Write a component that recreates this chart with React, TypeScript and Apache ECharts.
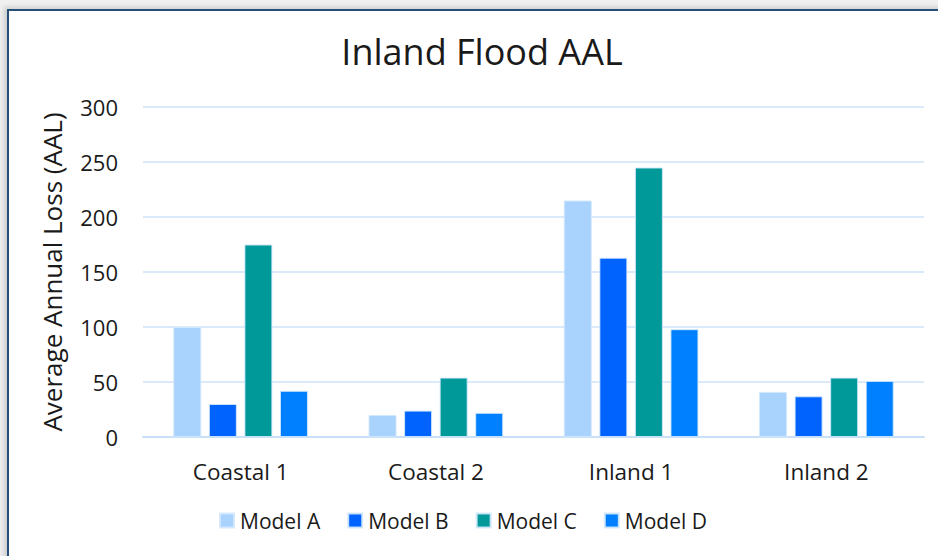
import React, { useEffect, useRef } from "react";
import * as echarts from "echarts";

const categories = ["Coastal 1", "Coastal 2", "Inland 1", "Inland 2"];
const modelA = [100, 20, 215, 41];
const modelB = [30, 24, 163, 37];
const modelC = [175, 54, 245, 54];
const modelD = [42, 22, 98, 51];
const seriesNames = ["Model A", "Model B", "Model C", "Model D"];
const colors = ["#a9d3fd", "#0063fe", "#009999", "#0080fe"];
const yTicks = { min: 0, max: 300, interval: 50 };

const FONT = "'Open Sans', 'Noto Sans', sans-serif";

export default function App() {
  const ref = useRef<HTMLDivElement>(null);
  useEffect(() => {
    if (!ref.current) return;
    const chart = echarts.init(ref.current, null, { renderer: "svg" });
    const data = [modelA, modelB, modelC, modelD];
    chart.setOption({
      animation: false,
      textStyle: { fontFamily: FONT },
      title: {
        text: "Inland Flood AAL",
        left: 477,
        textAlign: "center",
        top: 28,
        textStyle: { fontFamily: FONT, fontSize: 36, fontWeight: "normal", color: "#1a1a1a" },
      },
      legend: {
        data: seriesNames,
        bottom: 20,
        left: 214,
        itemWidth: 14,
        itemHeight: 14,
        itemGap: 27,
        icon: "rect",
        textStyle: { fontFamily: FONT, fontSize: 21, color: "#1a1a1a", padding: [0, 0, 0, 1] },
      },
      grid: { left: 143, right: 14, top: 107, bottom: 119, containLabel: false },
      xAxis: {
        type: "category",
        data: categories,
        axisLine: { show: true, lineStyle: { color: "#c9e1f8", width: 2 } },
        axisTick: { show: false },
        axisLabel: { fontFamily: FONT, fontSize: 22.5, color: "#1a1a1a", margin: 23 },
      },
      yAxis: {
        type: "value",
        min: yTicks.min,
        max: yTicks.max,
        interval: yTicks.interval,
        name: "Average Annual Loss (AAL)",
        nameLocation: "middle",
        nameGap: 78,
        nameRotate: 90,
        nameTextStyle: { fontFamily: FONT, fontSize: 26, color: "#1a1a1a" },
        axisLine: { show: false },
        axisTick: { show: false },
        axisLabel: { fontFamily: FONT, fontSize: 22, color: "#1a1a1a", margin: 25 },
        splitLine: { lineStyle: { color: "#cfe3f8", width: 1.5 } },
      },
      series: seriesNames.map((name, i) => ({
        name,
        type: "bar",
        data: data[i],
        barWidth: 28,
        barGap: "27%",
        itemStyle: { color: colors[i], borderColor: "rgba(210,232,252,0.9)", borderWidth: 1 },
      })),
    });
    return () => chart.dispose();
  }, []);

  return (
    <div style={{ position: "fixed", left: 0, top: 0, width: 938, height: 556, background: "#f0f0f0", overflow: "hidden" }}>
      <div
        style={{
          position: "absolute",
          left: 7,
          top: 9,
          width: 960,
          height: 580,
          background: "#ffffff",
          border: "2px solid #264f7a",
          boxShadow: "-3px -2px 5px rgba(0,0,0,0.15)",
        }}
      />
      <div ref={ref} style={{ position: "absolute", left: 0, top: 0, width: 938, height: 556 }} />
    </div>
  );
}
